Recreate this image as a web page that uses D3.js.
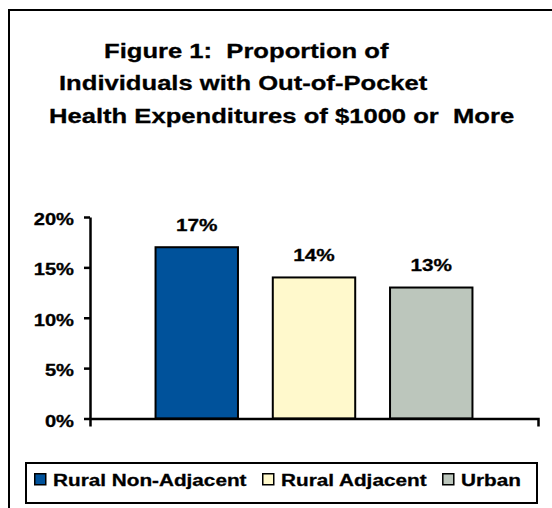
<!DOCTYPE html>
<html>
<head>
<meta charset="utf-8">
<script src="https://cdn.jsdelivr.net/npm/d3@7/dist/d3.min.js"></script>
<style>
  html, body { margin: 0; padding: 0; background: #fff; }
  svg { display: block; }
  text { font-family: "Liberation Sans", Arial, Helvetica, sans-serif; font-weight: bold; fill: #000;
         stroke: #000; stroke-width: 0.3px; white-space: pre; }
</style>
</head>
<body>
<script>
// Series (one cluster of three bars) and their values, in percent
const seriesNames = ["Rural Non-Adjacent", "Rural Adjacent", "Urban"];
const seriesValues = [17, 14, 13];
const seriesColors = ["#00529b", "#fff9cc", "#bcc6bc"];
const yTicks = [0, 5, 10, 15, 20];
const titleLines = [
  "Figure 1:  Proportion of",
  "Individuals with Out-of-Pocket",
  "Health Expenditures of $1000 or  More"
];

const W = 552, H = 508;
const SX = 1.22; // horizontal stretch applied to all lettering

const svg = d3.select("body").append("svg")
  .attr("width", W).attr("height", H);

// outer frame (open past the right and bottom edges)
svg.append("rect")
  .attr("x", 9).attr("y", 10)
  .attr("width", 560).attr("height", 520)
  .attr("fill", "none").attr("stroke", "#000").attr("stroke-width", 2);

// stretched text helper
function stext(parent, str, x, y, size, anchor) {
  return parent.append("text")
    .attr("transform", `translate(${x},${y}) scale(${SX},1)`)
    .attr("text-anchor", anchor || "start")
    .style("font-size", size + "px")
    .text(str);
}

// title
const titleX = [104, 59, 49];
const titleY = [58, 90, 122.5];
titleLines.forEach((t, i) => stext(svg, t, titleX[i], titleY[i], 21));

// scales
const y = d3.scaleLinear().domain([0, 20]).range([418.5, 217]);
const x = d3.scaleBand().domain(seriesNames).range([90, 538])
  .paddingInner(0.297).paddingOuter(0.559);
const xLine = d3.scaleLinear().domain([0, 1]).range([90, 538]);

// bars
svg.append("g").selectAll("rect")
  .data(seriesNames)
  .join("rect")
  .attr("x", d => x(d))
  .attr("y", (d, i) => y(seriesValues[i]))
  .attr("width", x.bandwidth())
  .attr("height", (d, i) => y(0) - y(seriesValues[i]))
  .attr("fill", (d, i) => seriesColors[i])
  .attr("stroke", "#000")
  .attr("stroke-width", 2);

// value labels
seriesNames.forEach((d, i) => {
  stext(svg, seriesValues[i] + "%", x(d) + x.bandwidth() / 2, y(seriesValues[i]) - 16.5, 17, "middle");
});

// y axis
const yAxis = svg.append("g")
  .attr("transform", "translate(90,0)")
  .call(d3.axisLeft(y).tickValues(yTicks).tickSize(6).tickSizeOuter(0).tickFormat(d => d + "%"));
yAxis.select(".domain").attr("stroke-width", 2.5);
yAxis.selectAll(".tick line").attr("stroke-width", 2.5);
yAxis.selectAll(".tick text")
  .attr("x", null).attr("dy", null)
  .attr("transform", `translate(-16,7.5) scale(${SX},1)`)
  .attr("text-anchor", "end")
  .style("font-size", "16.5px")
  .style("font-family", null);

// x axis: baseline with end tick marks
const xAxis = svg.append("g")
  .attr("transform", `translate(0,${y(0)})`)
  .call(d3.axisBottom(xLine).tickValues([]).tickSizeOuter(8));
xAxis.select(".domain").attr("stroke-width", 2.5);

// legend
const legend = svg.append("g");
legend.append("rect")
  .attr("x", 26).attr("y", 463).attr("width", 511).attr("height", 40)
  .attr("fill", "#fff").attr("stroke", "#000").attr("stroke-width", 2);
let lx = 34;
seriesNames.forEach((name, i) => {
  legend.append("rect")
    .attr("x", lx + 0.75).attr("y", 473.75).attr("width", 11).attr("height", 11)
    .attr("fill", seriesColors[i]).attr("stroke", "#000").attr("stroke-width", 1.5);
  const t = stext(legend, name, lx + 19, 485.5, 17);
  lx += 19 + t.node().getComputedTextLength() * SX + 15.5;
});
</script>
</body>
</html>
